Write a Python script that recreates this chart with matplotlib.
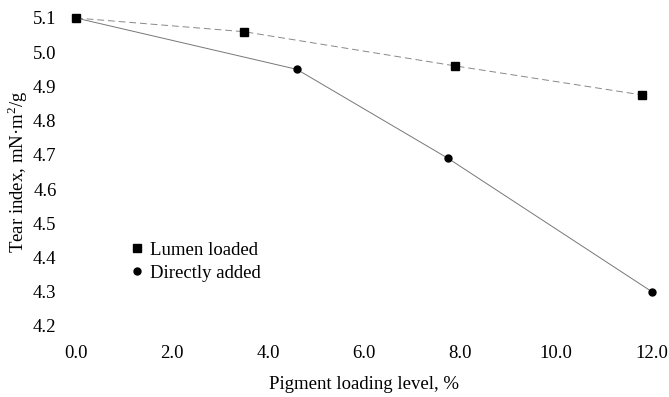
import matplotlib
matplotlib.use("Agg")
import matplotlib.pyplot as plt

plt.rcParams['font.family'] = ['Liberation Serif', 'DejaVu Serif']
plt.rcParams['mathtext.fontset'] = 'custom'
plt.rcParams['mathtext.rm'] = 'Liberation Serif'

# Tear index vs. pigment loading
lumen_x = [0.0, 3.5, 7.9, 11.8]
lumen_y = [5.10, 5.06, 4.96, 4.875]
direct_x = [0.0, 4.6, 7.75, 12.0]
direct_y = [5.10, 4.95, 4.69, 4.30]

x_ticks = [0, 2, 4, 6, 8, 10, 12]
y_ticks = [4.2, 4.3, 4.4, 4.5, 4.6, 4.7, 4.8, 4.9, 5.0, 5.1]

fig = plt.figure(figsize=(6.69, 3.97), dpi=100)
ax = fig.add_axes([76 / 669, 1 - 326 / 397, 576 / 669, 308 / 397])

ax.plot(lumen_x, lumen_y, color='#888888', lw=0.7, ls=(0, (7, 4)),
        marker='s', ms=5.5, mfc='black', mec='black', clip_on=False,
        label='Lumen loaded')
ax.plot(direct_x, direct_y, color='#777777', lw=0.7,
        marker='o', ms=5, mfc='black', mec='black', clip_on=False,
        label='Directly added')

ax.set_xlim(0, 12)
ax.set_ylim(4.2, 5.1)
ax.set_xticks(x_ticks)
ax.set_xticklabels([f'{v:.1f}' for v in x_ticks])
ax.set_yticks(y_ticks)
ax.set_yticklabels([f'{v:.1f}' for v in y_ticks])
ax.tick_params(axis='both', length=0, labelsize=13.5)
ax.tick_params(axis='x', pad=14)
ax.tick_params(axis='y', pad=14)
for s in ax.spines.values():
    s.set_visible(False)

ax.set_xlabel('Pigment loading level, %', fontsize=13.5, labelpad=10)
ax.set_ylabel('Tear index, mN·m$^2$/g', fontsize=13.5, labelpad=2)

# legend without frame, markers only
leg = ax.legend(loc='lower left', bbox_to_anchor=(0.083, 0.12), frameon=False,
                fontsize=13.5, handlelength=0.6, handletextpad=0.4,
                labelspacing=0.3, borderaxespad=0)
for h in leg.legend_handles:
    h.set_linestyle('none')

fig.savefig('out.png', dpi=100, facecolor='white')
plt.close(fig)
